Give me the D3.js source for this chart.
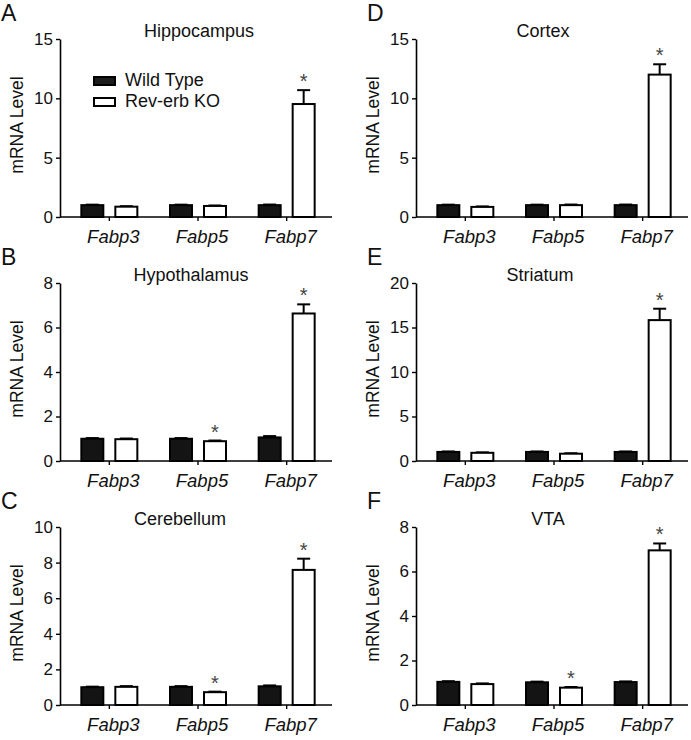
<!DOCTYPE html>
<html><head><meta charset="utf-8">
<script src="https://cdn.jsdelivr.net/npm/d3@7"></script>
<style>
body{margin:0;background:#fff}
svg{display:block}
text{font-family:"Liberation Sans",Arial,Helvetica,sans-serif;fill:#111}
</style>
</head><body>
<svg id="chart" width="691" height="740"></svg>
<script>
// ---------------- data ----------------
const categories = ["Fabp3", "Fabp5", "Fabp7"];
const seriesNames = ["Wild Type", "Rev-erb KO"];
const panelLetters = ["A", "B", "C", "D", "E", "F"];
const regions = ["Hippocampus", "Hypothalamus", "Cerebellum", "Cortex", "Striatum", "VTA"];
const wildType = [
  [1.00, 1.00, 1.00],
  [1.00, 1.00, 1.06],
  [1.00, 1.02, 1.05],
  [1.00, 1.00, 1.00],
  [1.02, 1.02, 1.02],
  [1.04, 1.02, 1.03]
];
const wildTypeErr = [
  [0.04, 0.04, 0.05],
  [0.03, 0.03, 0.06],
  [0.03, 0.04, 0.05],
  [0.04, 0.04, 0.05],
  [0.05, 0.05, 0.05],
  [0.03, 0.03, 0.03]
];
const revErbKO = [
  [0.87, 0.93, 9.52],
  [0.98, 0.89, 6.63],
  [1.02, 0.72, 7.59],
  [0.85, 1.00, 12.0],
  [0.92, 0.82, 15.83],
  [0.94, 0.78, 6.95]
];
const revErbKOErr = [
  [0.04, 0.04, 1.17],
  [0.03, 0.03, 0.41],
  [0.04, 0.03, 0.63],
  [0.04, 0.05, 0.87],
  [0.05, 0.05, 1.28],
  [0.03, 0.03, 0.31]
];
const yMax = [15, 8, 10, 15, 20, 8];
const yTicks = [
  [0, 5, 10, 15],
  [0, 2, 4, 6, 8],
  [0, 2, 4, 6, 8, 10],
  [0, 5, 10, 15],
  [0, 5, 10, 15, 20],
  [0, 2, 4, 6, 8]
];
const significant = [
  [0, 0, 1],
  [0, 1, 1],
  [0, 1, 1],
  [0, 0, 1],
  [0, 0, 1],
  [0, 1, 1]
];
const yLabel = "mRNA Level";

// ---------------- layout ----------------
const colX = [60, 416];
const rowTop = [39, 283, 527];
const plotH = 178;
const axisLen = 272;
const titleDx = [139, 131, 120, 127, 124, 132];

const svg = d3.select("#chart");

regions.forEach((region, p) => {
  const col = Math.floor(p / 3), row = p % 3;
  const ax = colX[col], top = rowTop[row], y0 = top + plotH;
  const g = svg.append("g");

  const y = d3.scaleLinear().domain([0, yMax[p]]).range([y0, top]);
  const x = d3.scaleBand().domain(categories).range([ax + 5, ax + 271]);
  const xs = d3.scaleBand().domain(seriesNames).range([-29, 29]).paddingInner(0.294);

  // panel letter
  g.append("text").attr("x", col === 0 ? 1 : 367).attr("y", top - 18)
    .attr("font-size", 23).text(panelLetters[p]);
  // title
  g.append("text").attr("x", ax + titleDx[p]).attr("y", top - 2)
    .attr("text-anchor", "middle").attr("font-size", 18).text(region);

  // y axis
  const yAxis = d3.axisLeft(y).tickValues(yTicks[p]).tickSize(4).tickSizeOuter(0).tickPadding(3);
  const ya = g.append("g").attr("transform", `translate(${ax},0)`).call(yAxis);
  ya.select(".domain").attr("stroke", "#000").attr("stroke-width", 1.6);
  ya.selectAll(".tick line").attr("stroke", "#000").attr("stroke-width", 1.4);
  ya.selectAll(".tick text").attr("font-size", 17).attr("font-family", "Liberation Sans, Arial, sans-serif").attr("fill", "#111");

  // y label
  g.append("text")
    .attr("transform", `translate(${ax - 37},${top + plotH / 2 - 3}) rotate(-90)`)
    .attr("text-anchor", "middle").attr("font-size", 17.5).text(yLabel);

  // bars
  const rows = [];
  categories.forEach((c, i) => {
    rows.push({cat: c, s: seriesNames[0], v: wildType[p][i], e: wildTypeErr[p][i], sig: 0});
    rows.push({cat: c, s: seriesNames[1], v: revErbKO[p][i], e: revErbKOErr[p][i], sig: significant[p][i]});
  });
  const cx = d => x(d.cat) + x.bandwidth() / 2 + xs(d.s);
  const bw = xs.bandwidth();

  // error bars (upper only)
  rows.forEach(d => {
    const mx = cx(d) + bw / 2;
    g.append("line").attr("x1", mx).attr("x2", mx).attr("y1", y(d.v)).attr("y2", y(d.v + d.e))
      .attr("stroke", "#000").attr("stroke-width", 2);
    g.append("line").attr("x1", mx - 6.5).attr("x2", mx + 6.5).attr("y1", y(d.v + d.e)).attr("y2", y(d.v + d.e))
      .attr("stroke", "#000").attr("stroke-width", 2);
  });

  g.selectAll("rect.bar").data(rows).join("rect").attr("class", "bar")
    .attr("x", d => cx(d) + 1)
    .attr("width", bw - 2)
    .attr("y", d => y(d.v))
    .attr("height", d => y0 - y(d.v))
    .attr("fill", d => d.s === seriesNames[0] ? "#141414" : "#fff")
    .attr("stroke", "#000").attr("stroke-width", 2);

  // significance asterisks
  g.selectAll("text.sig").data(rows.filter(d => d.sig)).join("text").attr("class", "sig")
    .attr("x", d => cx(d) + bw / 2)
    .attr("y", d => y(d.v + d.e) - 2)
    .attr("text-anchor", "middle").attr("font-size", 20).style("fill", "#444").text("*");

  // x axis
  g.append("line").attr("x1", ax).attr("x2", ax + axisLen).attr("y1", y0).attr("y2", y0)
    .attr("stroke", "#000").attr("stroke-width", 1.6);
  const xAxis = d3.axisBottom(x).tickSize(4).tickSizeOuter(0).tickFormat(() => "");
  const xa = g.append("g").attr("transform", `translate(0,${y0})`).call(xAxis);
  xa.select(".domain").remove();
  xa.selectAll(".tick line").attr("stroke", "#000").attr("stroke-width", 1.4);
  g.selectAll("text.cat").data(categories).join("text").attr("class", "cat")
    .attr("x", d => x(d) + x.bandwidth() / 2 + 4)
    .attr("y", y0 + 26)
    .attr("text-anchor", "middle").attr("font-size", 18.5).attr("font-style", "italic").text(d => d);

  // legend (panel A only)
  if (p === 0) {
    seriesNames.forEach((s, i) => {
      const ly = top + 38 + i * 21;
      g.append("rect").attr("x", ax + 34).attr("y", ly).attr("width", 21).attr("height", 8)
        .attr("fill", i === 0 ? "#1c1c1c" : "#fff").attr("stroke", "#000").attr("stroke-width", 2);
      g.append("text").attr("x", ax + 65).attr("y", ly + 9).attr("font-size", 18).text(s);
    });
  }
});
</script>
</body></html>
